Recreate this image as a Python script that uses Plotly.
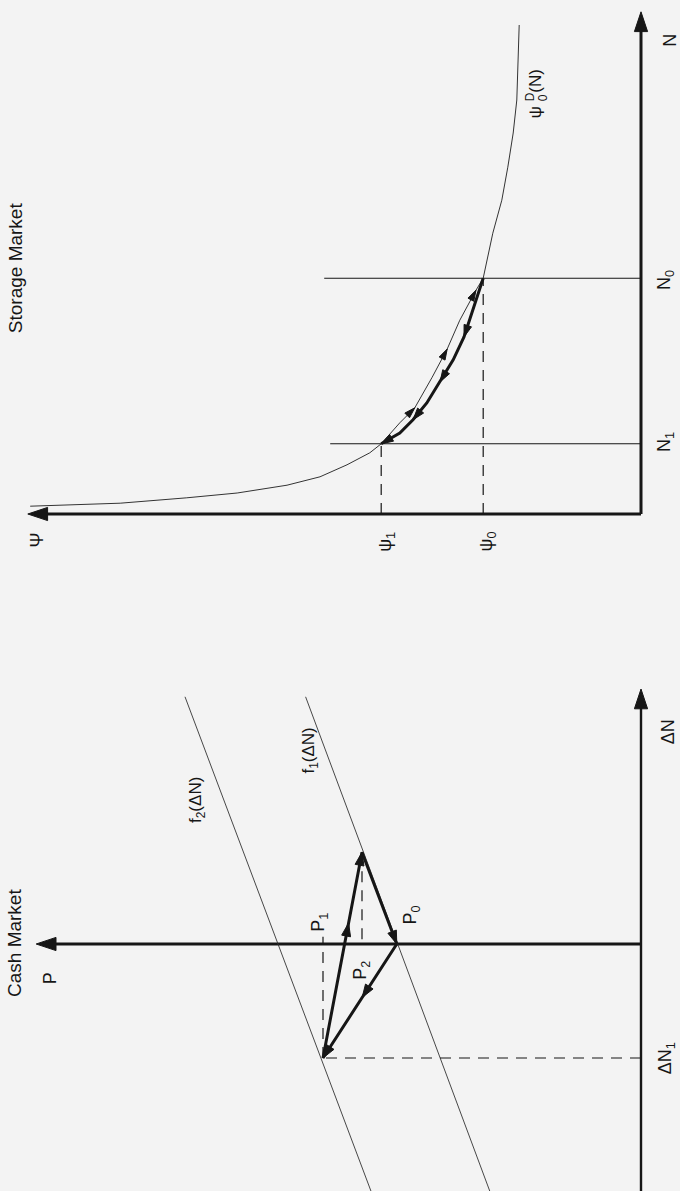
import numpy as np
import plotly.graph_objects as go

# ---------------- data ----------------
# Storage market: demand curve psi_0^D(N)
N_curve = [8.15, 6.90, 6.35, 5.78, 5.23, 4.68, 3.93, 3.73, 3.23, 2.75, 2.28,
           1.77, 1.52, 1.17, 1.02, 0.82, 0.62, 0.48, 0.35, 0.27, 0.18, 0.15, 0.13]
psi_curve = [2.03, 2.07, 2.13, 2.22, 2.32, 2.47, 2.63, 2.75, 3.02, 3.23, 3.48,
             3.77, 4.02, 4.33, 4.52, 4.90, 5.35, 5.90, 6.73, 7.57, 8.68, 9.52, 10.18]
# adjustment path N0 -> N1 (thick)
N_adj = [3.93, 3.40, 2.95, 2.57, 2.20, 1.85, 1.57, 1.35, 1.17]
psi_adj = [2.63, 2.80, 2.95, 3.13, 3.35, 3.57, 3.80, 4.02, 4.33]
N0, N1 = 3.93, 1.17
psi0, psi1 = 2.63, 4.33
psi_axis_max, N_axis_max = 10.22, 8.37

# Cash market
P0, P1, P2 = 4.07, 5.30, 4.65
dN1, dN_top = -1.90, 1.53
f1_P = [5.59, 2.52]
f1_dN = [4.12, -4.12]
f2_P = [7.60, 4.50]
f2_dN = [4.12, -4.12]
P_axis_max = 10.08
dN_axis_min, dN_axis_max = -4.12, 4.25

# ---------------- helpers ----------------
INK = "#161616"
BG = "#f3f3f3"
FONT = "Liberation Sans, Arial, Helvetica, sans-serif"


def head(xt, yt, xf, yf, length, half_w):
    dx, dy = xt - xf, yt - yf
    d = np.hypot(dx, dy)
    ux, uy = dx / d, dy / d
    bx, by = xt - ux * length, yt - uy * length
    px, py = -uy, ux
    return ([xt, bx + px * half_w, bx - px * half_w, xt, None],
            [yt, by + py * half_w, by - py * half_w, yt, None])


def heads_trace(items, yaxis):
    xs, ys = [], []
    for it in items:
        hx, hy = head(*it)
        xs += hx
        ys += hy
    return go.Scatter(x=xs, y=ys, yaxis=yaxis, mode="lines", fill="toself",
                      fillcolor=INK, line=dict(color=INK, width=1),
                      hoverinfo="skip", showlegend=False)


def line(x, y, yaxis, width=1, dash=None, color=INK):
    return go.Scatter(x=x, y=y, yaxis=yaxis, mode="lines",
                      line=dict(color=color, width=width, dash=dash),
                      hoverinfo="skip", showlegend=False)


fig = go.Figure()
DASH = "11px,8px"

# ---------------- storage market ----------------
fig.add_trace(line([0, psi_axis_max - 0.2], [0, 0], "y", 3.2))
fig.add_trace(line([0, 0], [0, N_axis_max - 0.2], "y", 3.0))
fig.add_trace(line(psi_curve, N_curve, "y", 1, color="#333"))
fig.add_trace(line([0, 5.28], [N0, N0], "y", 1.1))
fig.add_trace(line([0, 5.18], [N1, N1], "y", 1.1))
fig.add_trace(line([psi0, psi0], [0, N0], "y", 1.2, DASH))
fig.add_trace(line([psi1, psi1], [0, N1], "y", 1.2, DASH))
fig.add_trace(line(psi_adj, N_adj, "y", 3))

s_heads = [
    (psi_axis_max, 0, 0, 0, 0.33, 0.11),
    (0, N_axis_max, 0, 0, 0.33, 0.11),
]
for i in (2, 4, 6, 8):
    s_heads.append((psi_adj[i], N_adj[i], psi_adj[i - 1], N_adj[i - 1], 0.2, 0.065))
for i in (7, 9, 11):
    s_heads.append((psi_curve[i], N_curve[i], psi_curve[i + 1], N_curve[i + 1], 0.18, 0.055))
fig.add_trace(heads_trace(s_heads, "y"))

# ---------------- cash market ----------------
fig.add_trace(line([0, P_axis_max - 0.2], [0, 0], "y2", 3.2))
fig.add_trace(line([0, 0], [dN_axis_min, dN_axis_max - 0.2], "y2", 2.4))
fig.add_trace(line(f1_P, f1_dN, "y2", 0.9, color="#333"))
fig.add_trace(line(f2_P, f2_dN, "y2", 0.9, color="#333"))
fig.add_trace(line([0, P1], [dN1, dN1], "y2", 1.2, DASH))
fig.add_trace(line([P1, P1], [dN1, 0.12], "y2", 1.2, DASH))
fig.add_trace(line([P2, P2], [dN_top, 0], "y2", 1.2, DASH))
tri_P = [P0, P1, P2, P0]
tri_dN = [0, dN1, dN_top, 0]
fig.add_trace(line(tri_P, tri_dN, "y2", 3))

c_heads = [
    (P_axis_max, 0, 0, 0, 0.33, 0.11),
    (0, dN_axis_max, 0, dN_axis_min, 0.33, 0.11),
]
for k, t in ((0, 0.47), (1, 0.656)):
    xa, ya, xb, yb = tri_P[k], tri_dN[k], tri_P[k + 1], tri_dN[k + 1]
    c_heads.append((xa + (xb - xa) * t, ya + (yb - ya) * t, xa, ya, 0.22, 0.075))
for k in range(3):
    c_heads.append((tri_P[k + 1], tri_dN[k + 1], tri_P[k], tri_dN[k], 0.22, 0.075))
fig.add_trace(heads_trace(c_heads, "y2"))

# ---------------- labels ----------------
labels = [
    ("Storage Market", 10.43, 4.10, "y", 19),
    ("N", -0.48, 7.90, "y", 18),
    ("N<sub>0</sub>", -0.40, 3.90, "y", 18),
    ("N<sub>1</sub>", -0.40, 1.20, "y", 18),
    ("Ψ", 10.07, -0.43, "y", 18),
    ("ψ<sub>1</sub>", 4.24, -0.47, "y", 18),
    ("ψ<sub>0</sub>", 2.56, -0.45, "y", 18),
    ("ψ <sup>D</sup>(N)", 1.78, 7.00, "y", 17),
    ("0", 1.64, 6.94, "y", 12),
    ("Cash Market", 10.43, 0.02, "y2", 19),
    ("P", 9.85, -0.57, "y2", 18),
    ("ΔN", -0.45, 3.53, "y2", 18),
    ("ΔN<sub>1</sub>", -0.42, -1.90, "y2", 18),
    ("P<sub>1</sub>", 5.36, 0.36, "y2", 18),
    ("P<sub>2</sub>", 4.66, -0.44, "y2", 18),
    ("P<sub>0</sub>", 3.83, 0.48, "y2", 18),
    ("f<sub>2</sub>(ΔN)", 7.40, 2.40, "y2", 17),
    ("f<sub>1</sub>(ΔN)", 5.52, 3.22, "y2", 17),
]
for txt, x, y, yr, sz in labels:
    fig.add_annotation(text=txt, x=x, y=y, xref="x", yref=yr, showarrow=False,
                       textangle=-90, font=dict(family=FONT, size=sz, color=INK))

fig.update_layout(
    width=680, height=1191,
    margin=dict(l=0, r=0, t=0, b=0),
    paper_bgcolor=BG, plot_bgcolor=BG,
    showlegend=False,
    xaxis=dict(range=[641 / 60, -39 / 60], visible=False, domain=[0, 1]),
    yaxis=dict(range=[-86 / 60, 514 / 60], visible=False, domain=[591 / 1191, 1]),
    yaxis2=dict(range=[-247 / 60, 344 / 60], visible=False, domain=[0, 591 / 1191],
                anchor="x"),
)

fig.write_html(
    "out.html",
    config={"displayModeBar": False, "staticPlot": True},
    post_script=(
        "document.body.style.margin='0px';"
        "document.body.style.padding='0px';"
        "document.body.style.overflow='hidden';"
        "document.body.style.background='" + BG + "';"
    ),
)
